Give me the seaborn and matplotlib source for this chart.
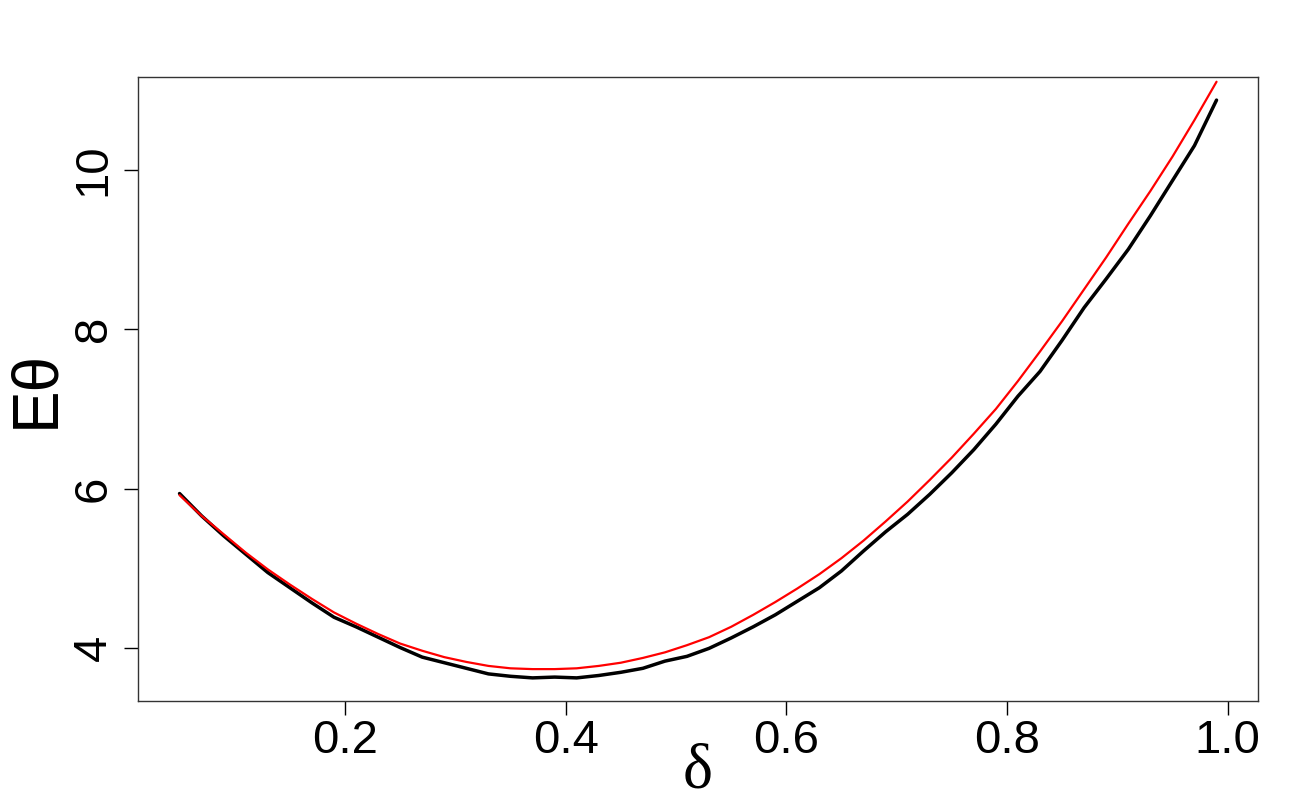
import numpy as np
import pandas as pd
import matplotlib
matplotlib.use("Agg")
import matplotlib.pyplot as plt
import seaborn as sns

# delta grid and the two E(theta) curves
delta = [0.05, 0.07, 0.09, 0.11, 0.13, 0.15, 0.17, 0.19, 0.21, 0.23,
         0.25, 0.27, 0.29, 0.31, 0.33, 0.35, 0.37, 0.39, 0.41, 0.43,
         0.45, 0.47, 0.49, 0.51, 0.53, 0.55, 0.57, 0.59, 0.61, 0.63,
         0.65, 0.67, 0.69, 0.71, 0.73, 0.75, 0.77, 0.79, 0.81, 0.83,
         0.85, 0.87, 0.89, 0.91, 0.93, 0.95, 0.97, 0.99]

# simulated (black)
e_theta_sim = [5.94, 5.66, 5.41, 5.18, 4.95, 4.76, 4.57, 4.39, 4.27, 4.14,
               4.01, 3.89, 3.82, 3.75, 3.68, 3.65, 3.63, 3.64, 3.63, 3.66,
               3.70, 3.75, 3.84, 3.90, 4.00, 4.13, 4.27, 4.42, 4.59, 4.76,
               4.97, 5.22, 5.46, 5.68, 5.93, 6.20, 6.49, 6.81, 7.16, 7.47,
               7.86, 8.27, 8.63, 9.00, 9.42, 9.86, 10.30, 10.87]

# theoretical (red)
e_theta_th = [5.92, 5.66, 5.43, 5.20, 4.99, 4.80, 4.62, 4.45, 4.31, 4.18,
              4.06, 3.97, 3.89, 3.83, 3.78, 3.75, 3.74, 3.74, 3.75, 3.78,
              3.82, 3.88, 3.95, 4.04, 4.14, 4.27, 4.42, 4.58, 4.75, 4.93,
              5.13, 5.35, 5.59, 5.84, 6.11, 6.39, 6.69, 7.00, 7.35, 7.72,
              8.10, 8.50, 8.90, 9.32, 9.73, 10.16, 10.62, 11.10]

x_ticks = [0.2, 0.4, 0.6, 0.8, 1.0]
y_ticks = [4, 6, 8, 10]

df = pd.DataFrame({"delta": delta, "sim": e_theta_sim, "th": e_theta_th})

sns.set_style("ticks")
plt.rcParams["font.family"] = ["Liberation Sans", "DejaVu Sans"]
plt.rcParams["text.color"] = "black"
plt.rcParams["axes.labelcolor"] = "black"
plt.rcParams["xtick.color"] = "black"
plt.rcParams["ytick.color"] = "black"

fig = plt.figure(figsize=(13, 8), dpi=100)
ax = fig.add_axes([0.1062, 0.12375, 0.8615, 0.78])

sns.lineplot(data=df, x="delta", y="sim", color="black", linewidth=2.5, ax=ax)
sns.lineplot(data=df, x="delta", y="th", color="red", linewidth=1.6, ax=ax)

# R-style 4% padding based on the black series
xr = max(delta) - min(delta)
yr = max(e_theta_sim) - min(e_theta_sim)
ax.set_xlim(min(delta) - 0.04 * xr, max(delta) + 0.04 * xr)
ax.set_ylim(min(e_theta_sim) - 0.04 * yr, max(e_theta_sim) + 0.04 * yr)

ax.set_xticks(x_ticks)
ax.set_xticklabels(["0.2", "0.4", "0.6", "0.8", "1.0"])
ax.set_yticks(y_ticks)
ax.set_yticklabels([str(v) for v in y_ticks], rotation=90, va="center")

ax.tick_params(axis="both", labelsize=34, length=10, width=1,
               direction="out", labelcolor="black")
ax.tick_params(axis="x", pad=3)
ax.tick_params(axis="y", pad=6)

for side in ["top", "right", "left", "bottom"]:
    ax.spines[side].set_visible(True)
    ax.spines[side].set_linewidth(1)
    ax.spines[side].set_color("#333333")

ax.set_xlabel("δ", fontsize=46, family=["Liberation Serif", "DejaVu Serif"],
              labelpad=-14)
ax.set_ylabel("Eθ", fontsize=46, labelpad=4)

fig.savefig("out.png", dpi=100, facecolor="white")
